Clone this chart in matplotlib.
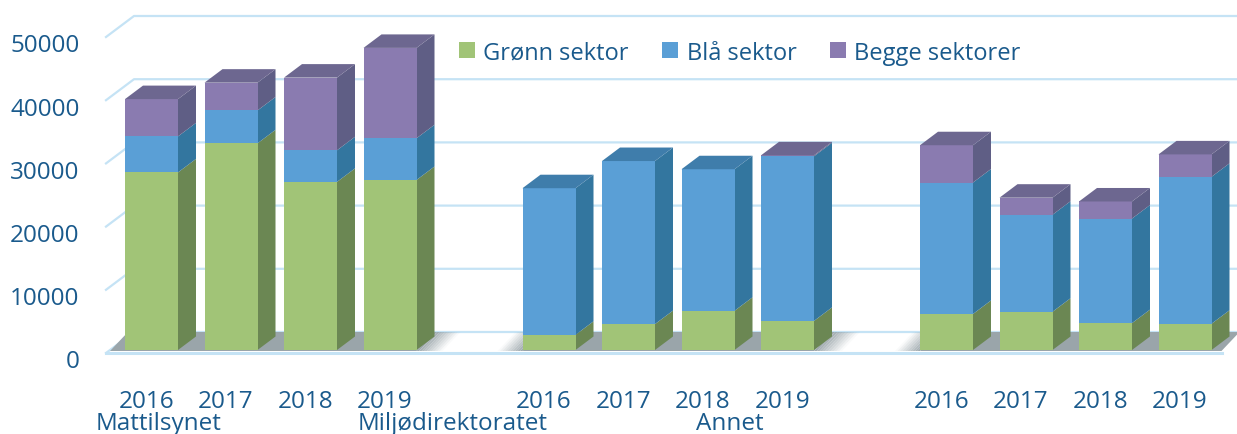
import numpy as np
import matplotlib
matplotlib.use('Agg')
from matplotlib import pyplot as plt
from matplotlib.transforms import ScaledTranslation

plt.rcParams['font.family'] = ['Open Sans', 'DejaVu Sans']

aar = ['2016', '2017', '2018', '2019'] * 3
grupper = ['Mattilsynet', 'Miljødirektoratet', 'Annet']
sektorer = ['Grønn sektor', 'Blå sektor', 'Begge sektorer']
gronn = [28100, 32700, 26600, 26900, 2400, 4100, 6200, 4600, 5700, 6050, 4250, 4150]
blaa = [5700, 5200, 5000, 6600, 23200, 25800, 22400, 26050, 20800, 15350, 16550, 23250]
begge = [5900, 4400, 11500, 14300, 0, 0, 0, 150, 5900, 2700, 2700, 3550]
y_ticks = [0, 10000, 20000, 30000, 40000, 50000]

foran = ['#a1c477', '#5a9fd6', '#8a7bb0']
side = ['#6b8753', '#33769f', '#5f5e85']
topp = ['#7d9c5e', '#3f7dab', '#6d6790']
tekst = '#1a5a8c'
rutenett = '#c5e3f5'
gulv = '#9aa5aa'

fig = plt.figure(figsize=(12.37, 4.35), dpi=100)
# axes fra x=106 til hoyre kant, bunn paa fremre gulvlinje (y=354)
ax = fig.add_axes([106 / 1237, (435 - 354) / 435, 1 - 106 / 1237, 354 / 435])
px_x = 79.5
px_y = 63.2 / 10000
ax.set_xlim((106 - 151.5) / px_x, (1237 - 151.5) / px_x)
ax.set_ylim(-3 / px_y, 351 / px_y)
for s in ax.spines.values():
    s.set_visible(False)

x = np.array([0, 1, 2, 3, 5, 6, 7, 8, 10, 11, 12, 13])
bredde = 53 / px_x
dx = 18 / px_x
dy = 13.5 / px_y
kant = bredde / 2

# vegg: rutenett med skraa linje til venstre
vx = 28 / px_x
vy = 21 / px_y
x0 = ax.get_xlim()[0]
x1 = ax.get_xlim()[1]
for v in y_ticks:
    g = v - 3 / px_y
    ax.plot([x0, x0 + vx, x1], [g, g + vy, g + vy], color=rutenett, lw=1.6, zorder=1, clip_on=False)
ax.plot([x0, x0 + 1116 / px_x], [-3 / px_y + 0.5 / px_y] * 2, color=rutenett, lw=2.2, zorder=1, clip_on=False)


def gulvstykke(a, b, alfa):
    ax.fill([a, b, b + dx, a + dx], [-1 / px_y, -1 / px_y, 18 / px_y, 18 / px_y],
            color=gulv, alpha=alfa, lw=0, zorder=2)


# gulv: (start, slutt, fade venstre, fade hoyre)
for a, b, fv, fh in [(0, 3, 0, 26), (5, 8, 25, 28), (10, 13, 25, 0)]:
    venstre = a - kant - (15 / px_x if fv == 0 else 0)
    hoyre = b + kant + (10 / px_x if fh == 0 else 0)
    gulvstykke(venstre, hoyre, 1)
    for i in range(10):
        if fv:
            bit = fv / px_x / 10
            gulvstykke(venstre - (i + 1) * bit, venstre - i * bit, 1 - (i + 0.5) / 10)
        if fh:
            bit = fh / px_x / 10
            gulvstykke(hoyre + i * bit, hoyre + (i + 1) * bit, 1 - (i + 0.5) / 10)

bunn = np.zeros(len(x))
for serie, navn, f, s, t in zip([gronn, blaa, begge], sektorer, foran, side, topp):
    verdier = np.array(serie)
    ax.bar(x, verdier, bredde, bottom=bunn, color=f, label=navn, zorder=4)
    for xi, b, h in zip(x, bunn, verdier):
        if h == 0:
            continue
        ax.fill([xi + kant, xi + kant + dx, xi + kant + dx, xi + kant],
                [b, b + dy, b + h + dy, b + h], color=s, lw=0, zorder=3.5)
    bunn = bunn + verdier

# toppflate i fargen til oeverste segment
for i, xi in enumerate(x):
    farge = topp[2] if begge[i] > 0 else topp[1]
    ax.fill([xi - kant, xi + kant, xi + kant + dx, xi - kant + dx],
            [bunn[i], bunn[i], bunn[i] + dy, bunn[i] + dy], color=farge, lw=0, zorder=5)

ax.set_yticks(y_ticks)
ax.set_yticklabels([str(v) for v in y_ticks])
ax.set_xticks(x - 5 / px_x)
ax.set_xticklabels(aar)
ax.tick_params(length=0, labelsize=17.5, labelcolor=tekst)
ax.tick_params(axis='y', pad=19)
ax.tick_params(axis='x', pad=26)
flytt = ScaledTranslation(0, -6 / 72, fig.dpi_scale_trans)
for lab in ax.get_yticklabels():
    lab.set_transform(lab.get_transform() + flytt)

for navn, xp in zip(grupper, [96, 358, 696]):
    ax.text((xp - 151.5) / px_x, (351 - 424) / 63.2 * 10000, navn, color=tekst, fontsize=17.5,
            ha='left', va='center', clip_on=False)

ax.legend(loc='upper left', bbox_to_anchor=((459 - 106) / (1237 - 106), 1 - 41.5 / 354), ncol=3, frameon=False,
          fontsize=17, labelcolor=tekst, handlelength=0.67, handleheight=0.67, handletextpad=0.36,
          columnspacing=1.42, borderpad=0, borderaxespad=0)

fig.savefig('out.png', dpi=100)
